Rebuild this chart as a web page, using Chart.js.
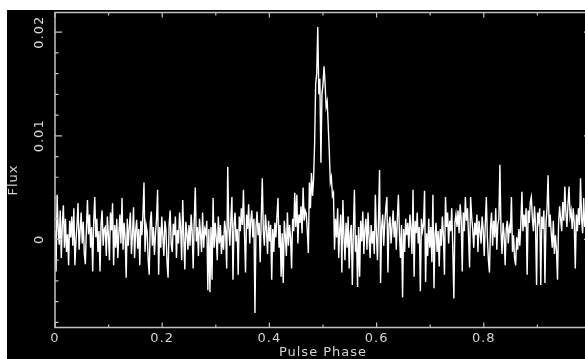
<!DOCTYPE html>
<html>
<head>
<meta charset="utf-8">
<script src="https://cdn.jsdelivr.net/npm/chart.js@4.4.0/dist/chart.umd.min.js"></script>
<style>
  html, body { margin: 0; padding: 0; background: #fff; overflow: hidden; width: 585px; height: 359px; }
  #wrap { position: absolute; left: 7px; top: 10px; width: 600px; height: 349px; background: #000; }
  canvas { display: block; }
</style>
</head>
<body>
<div id="wrap"><canvas id="pulse" width="600" height="349"></canvas></div>
<script>
// --- Data: folded pulse profile, 512 phase bins ---
const nBins = 512;
const flux = [
  0.0008, -0.0031, 0.0043, 0.0012, -0.0005, 0.0028, -0.0018, 0.0015, 0.0033, -0.0008, 0.0020, -0.0012, 0.0005, -0.0025, 0.0018, 0.0002,
  0.0022, -0.0006, 0.0030, -0.0025, -0.0002, 0.0014, 0.0035, -0.0010, 0.0009, 0.0026, -0.0004, 0.0017, -0.0014, -0.0024, 0.0010, 0.0038,
  0.0005, 0.0024, -0.0008, 0.0012, -0.0031, 0.0018, 0.0041, 0.0002, 0.0020, -0.0012, 0.0008, -0.0031, 0.0015, 0.0028, -0.0006, 0.0010,
  0.0012, -0.0016, 0.0022, 0.0004, -0.0020, 0.0026, 0.0009, 0.0035, -0.0025, 0.0014, -0.0008, 0.0020, -0.0018, 0.0006, 0.0024, -0.0004,
  0.0040, -0.0010, 0.0016, 0.0002, -0.0037, 0.0020, -0.0006, 0.0012, 0.0026, -0.0014, 0.0004, 0.0031, -0.0018, 0.0008, 0.0019, -0.0009,
  0.0010, -0.0025, 0.0018, 0.0004, 0.0024, 0.0055, -0.0012, 0.0014, 0.0008, -0.0020, -0.0034, 0.0016, 0.0027, -0.0006, 0.0012, -0.0015,
  0.0006, 0.0020, 0.0048, -0.0034, 0.0012, -0.0008, 0.0022, 0.0003, -0.0016, 0.0018, 0.0009, -0.0022, -0.0037, 0.0014, 0.0028, -0.0005,
  -0.0012, 0.0015, 0.0004, 0.0022, -0.0018, 0.0009, -0.0004, 0.0026, 0.0011, -0.0020, 0.0038, 0.0002, -0.0029, 0.0017, 0.0006, -0.0010,
  0.0014, -0.0006, 0.0024, 0.0008, -0.0028, 0.0018, 0.0050, -0.0002, 0.0012, -0.0016, 0.0020, 0.0005, -0.0012, 0.0026, -0.0008, 0.0010,
  0.0006, 0.0018, -0.0049, 0.0010, -0.0051, 0.0012, -0.0039, 0.0040, -0.0008, 0.0016, 0.0002, -0.0020, 0.0022, -0.0004, 0.0014, -0.0014,
  0.0004, -0.0010, 0.0018, 0.0008, -0.0028, 0.0070, 0.0012, -0.0006, 0.0020, 0.0041, -0.0039, 0.0015, 0.0026, -0.0002, 0.0010, -0.0034,
  0.0022, 0.0008, 0.0030, 0.0014, 0.0048, 0.0006, -0.0032, 0.0024, 0.0010, 0.0034, -0.0004, 0.0018, 0.0028, 0.0002, 0.0020, -0.0071,
  0.0012, 0.0027, 0.0004, 0.0016, -0.0022, 0.0020, 0.0059, 0.0008, -0.0006, 0.0024, 0.0010, -0.0014, 0.0018, -0.0002, 0.0014, -0.0039,
  0.0010, -0.0012, 0.0016, 0.0002, 0.0022, 0.0040, -0.0008, 0.0014, -0.0036, 0.0006, -0.0042, 0.0018, 0.0004, -0.0016, 0.0026, -0.0006,
  0.0014, 0.0002, -0.0028, 0.0020, 0.0008, 0.0045, 0.0012, 0.0043, -0.0004, 0.0024, 0.0016, 0.0032, 0.0006, 0.0050, 0.0018, 0.0028,
  0.0025, 0.0008, -0.0013, 0.0055, 0.0030, 0.0064, 0.0042, 0.0058, 0.0093, 0.0150, 0.0160, 0.0205, 0.0140, 0.0155, 0.0074, 0.0140,
  0.0150, 0.0167, 0.0150, 0.0128, 0.0133, 0.0110, 0.0085, 0.0055, 0.0060, 0.0042, 0.0045, -0.0010, 0.0020, 0.0002, 0.0030, -0.0018,
  0.0010, 0.0024, -0.0032, 0.0038, 0.0004, -0.0020, 0.0016, -0.0008, 0.0022, -0.0028, 0.0006, 0.0014, -0.0044, 0.0008, 0.0048, -0.0012,
  0.0004, -0.0046, 0.0012, -0.0036, 0.0018, -0.0002, 0.0027, -0.0014, 0.0009, 0.0020, -0.0010, 0.0026, 0.0002, -0.0018, 0.0014, -0.0004,
  0.0008, -0.0014, 0.0043, 0.0006, -0.0020, 0.0018, 0.0067, -0.0042, 0.0012, 0.0024, -0.0006, 0.0016, 0.0030, 0.0041, -0.0032, 0.0014,
  0.0022, -0.0004, 0.0012, 0.0028, 0.0002, 0.0018, -0.0010, 0.0020, 0.0043, 0.0006, -0.0018, 0.0014, -0.0056, 0.0010, -0.0012, 0.0020,
  0.0004, 0.0016, -0.0008, 0.0024, 0.0010, -0.0014, 0.0048, -0.0036, 0.0018, 0.0006, 0.0026, -0.0004, 0.0012, -0.0050, 0.0020, 0.0008,
  0.0014, 0.0047, -0.0041, 0.0006, -0.0016, 0.0020, -0.0008, 0.0012, -0.0022, 0.0043, -0.0047, 0.0004, 0.0016, -0.0012, 0.0008, -0.0026,
  0.0010, -0.0006, 0.0022, 0.0004, -0.0034, 0.0041, 0.0012, 0.0026, -0.0004, 0.0018, 0.0008, 0.0030, -0.0010, -0.0057, 0.0016, 0.0024,
  0.0012, 0.0028, 0.0006, 0.0034, 0.0020, -0.0031, 0.0026, 0.0008, 0.0041, 0.0018, 0.0030, 0.0004, -0.0027, 0.0041, 0.0022, 0.0010,
  -0.0008, 0.0016, 0.0004, 0.0024, -0.0012, 0.0018, 0.0008, -0.0004, 0.0022, 0.0010, -0.0016, 0.0014, 0.0041, 0.0002, -0.0020, -0.0032,
  0.0012, 0.0026, -0.0006, 0.0018, 0.0002, 0.0030, -0.0010, 0.0014, 0.0020, 0.0072, 0.0008, -0.0014, 0.0016, 0.0004, -0.0025, 0.0010,
  0.0018, -0.0004, 0.0012, 0.0006, 0.0041, -0.0012, 0.0004, -0.0018, -0.0025, 0.0002, -0.0010, 0.0010, -0.0006, 0.0016, 0.0046, 0.0008,
  0.0024, 0.0012, 0.0030, -0.0034, 0.0028, 0.0016, 0.0036, 0.0041, 0.0020, 0.0008, 0.0032, 0.0014, -0.0044, 0.0026, 0.0018, 0.0030,
  -0.0044, 0.0022, 0.0010, 0.0028, -0.0042, 0.0016, 0.0030, 0.0062, 0.0012, 0.0024, 0.0006, -0.0008, 0.0018, -0.0014, 0.0004, -0.0010,
  -0.0039, 0.0014, 0.0032, 0.0020, 0.0008, 0.0036, 0.0018, 0.0051, 0.0026, 0.0012, 0.0034, 0.0051, 0.0022, 0.0028, 0.0010, 0.0030,
  0.0016, -0.0028, 0.0024, 0.0008, 0.0030, 0.0014, 0.0059, 0.0020, 0.0006, 0.0040, 0.0012, 0.0026, 0.0018, 0.0004, 0.0022, 0.0010
];
const phase = flux.map((_, i) => i / nBins);

// --- Axes ---
const xTicks = [0, 0.2, 0.4, 0.6, 0.8, 1];
const xTickLabels = ['0', '0.2', '0.4', '0.6', '0.8', '1'];
const xMinorTicks = [0.1, 0.3, 0.5, 0.7, 0.9];
const yTicks = [0, 0.01, 0.02];
const yTickLabels = ['0', '0.01', '0.02'];
const yMinorTicks = [-0.008, -0.006, -0.004, -0.002, 0.002, 0.004, 0.006, 0.008, 0.012, 0.014, 0.016, 0.018];
const xTitle = 'Pulse Phase';
const yTitle = 'Flux';

const axisColor = '#c2c2c2';
const labelColor = '#d4d4d4';
const labelFont = '13px "DejaVu Sans"';

// Boxed frame with inward ticks on all four sides, PGPLOT style
const frameAxes = {
    id: 'frameAxes',
    afterDraw(chart) {
        const { ctx, chartArea: a, scales: { x, y } } = chart;
        ctx.save();
        ctx.strokeStyle = axisColor;
        ctx.lineWidth = 1.5;
        ctx.strokeRect(a.left, a.top, a.right - a.left, a.bottom - a.top);

        ctx.lineWidth = 1.2;
        ctx.beginPath();
        const xTick = (v, len) => {
            const px = x.getPixelForValue(v);
            ctx.moveTo(px, a.bottom); ctx.lineTo(px, a.bottom - len);
            ctx.moveTo(px, a.top); ctx.lineTo(px, a.top + len);
        };
        const yTick = (v, len) => {
            const py = y.getPixelForValue(v);
            ctx.moveTo(a.left, py); ctx.lineTo(a.left + len, py);
            ctx.moveTo(a.right, py); ctx.lineTo(a.right - len, py);
        };
        xTicks.forEach(v => xTick(v, 5));
        xMinorTicks.forEach(v => xTick(v, 3));
        yTicks.forEach(v => yTick(v, 7));
        yMinorTicks.forEach(v => yTick(v, 3.5));
        ctx.stroke();

        ctx.fillStyle = labelColor;
        ctx.font = labelFont;
        ctx.letterSpacing = '1px';
        ctx.textAlign = 'center';
        ctx.textBaseline = 'middle';
        xTicks.forEach((v, i) => {
            ctx.fillText(xTickLabels[i], x.getPixelForValue(v), a.bottom + 11);
        });
        ctx.fillText(xTitle, (a.left + a.right) / 2, a.bottom + 25);

        yTicks.forEach((v, i) => {
            ctx.save();
            ctx.translate(a.left - 15, y.getPixelForValue(v));
            ctx.rotate(-Math.PI / 2);
            ctx.fillText(yTickLabels[i], 0, 0);
            ctx.restore();
        });
        ctx.save();
        ctx.translate(a.left - 41, 170);
        ctx.rotate(-Math.PI / 2);
        ctx.fillText(yTitle, 0, 0);
        ctx.restore();
        ctx.restore();
    }
};

new Chart(document.getElementById('pulse'), {
    type: 'line',
    data: {
        datasets: [{
            data: phase.map((p, i) => ({ x: p, y: flux[i] })),
            borderColor: '#ffffff',
            borderWidth: 1.4,
            pointRadius: 0,
            tension: 0
        }]
    },
    options: {
        responsive: false,
        animation: false,
        devicePixelRatio: 1,
        layout: { padding: { left: 48, top: 2.5, right: 16, bottom: 31.5 } },
        plugins: { legend: { display: false }, tooltip: { enabled: false } },
        scales: {
            x: { type: 'linear', min: 0, max: 1, display: false },
            y: { type: 'linear', min: -0.0085, max: 0.0219, display: false }
        }
    },
    plugins: [frameAxes]
});
</script>
</body>
</html>
